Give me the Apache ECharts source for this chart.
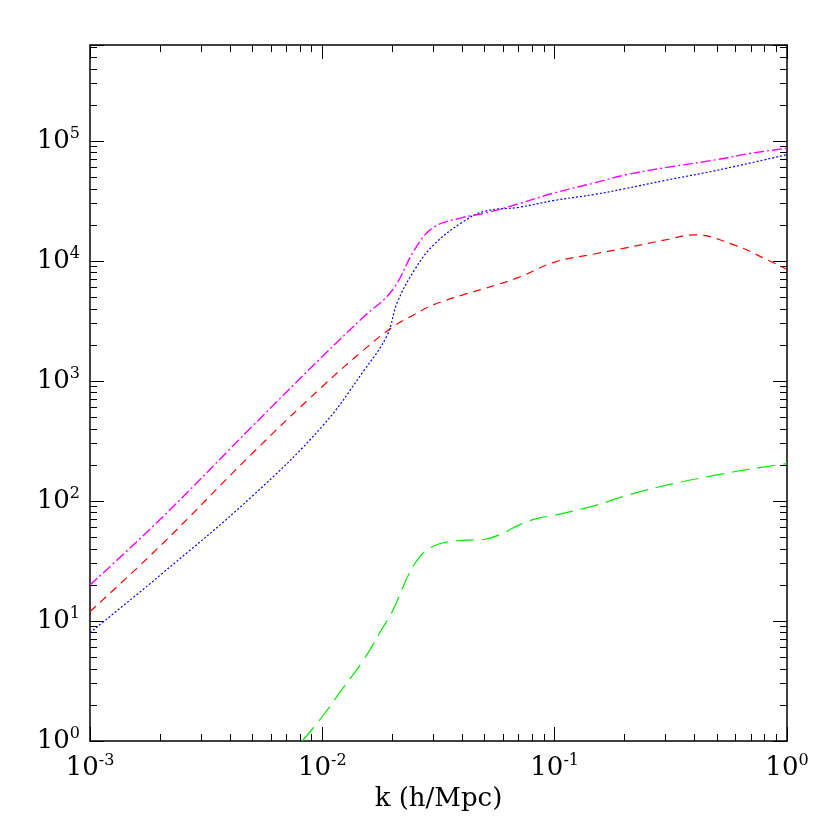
<!DOCTYPE html><html><head><meta charset="utf-8">
<script src="https://cdn.jsdelivr.net/npm/echarts@6/dist/echarts.min.js"></script>
<style>html,body{margin:0;background:#fff}#c{width:830px;height:830px}</style></head><body><div id="c"></div>
<script>
const standK=[0.001,0.002,0.005,0.01,0.015,0.02,0.025,0.03,0.04,0.05,0.07,0.1,0.15,0.2,0.3,0.4,0.6,0.8,1];
const standV=[12,42,250,900,1800,2800,3600,4300,5200,5900,7300,9800,11500,12800,15000,16500,13500,10500,8500];
const alphaK=[0.0082,0.01,0.012,0.015,0.018,0.02,0.025,0.03,0.04,0.05,0.06,0.07,0.085,0.1,0.15,0.2,0.3,0.5,0.7,1];
const alphaV=[1,1.6,2.6,4.7,8.5,12,30,42,47,48,54,63,72,76,92,110,135,165,185,205];
const eK=[0.001,0.002,0.005,0.01,0.015,0.019,0.021,0.025,0.03,0.04,0.05,0.07,0.1,0.15,0.2,0.3,0.5,1];
const eV=[8,24,110,420,1200,2400,4500,8500,13500,21000,26000,28000,32000,36000,40000,47000,57000,77000];
const allK=[0.001,0.002,0.005,0.01,0.015,0.02,0.025,0.03,0.04,0.05,0.07,0.1,0.15,0.2,0.3,0.5,0.7,1];
const allV=[20,70,420,1600,3400,5700,12500,19000,23000,25000,30000,37000,45000,52000,60000,70000,79000,87000];
const names=['stand. contrib.','\u03b1 contrib.','E contrib.','all terms'];
function fmt(v){const e=Math.round(Math.log10(v));if(Math.abs(Math.log10(v)-e)>1e-6)return '';return '{b|10}{s|'+e+'}';}
const rich={b:{fontSize:26,fontFamily:'DejaVu Serif',color:'#000'},s:{fontSize:16,fontFamily:'DejaVu Serif',color:'#000',verticalAlign:'top',padding:[0,0,14,0]}};
const ax=(extra)=>Object.assign({type:'log',logBase:10,axisLine:{show:true,onZero:false,lineStyle:{color:'#000',width:1.5}},
 axisTick:{show:true,inside:true,length:14,lineStyle:{color:'#000'}},minorTick:{show:true,splitNumber:9,length:7,lineStyle:{color:'#000'}},
 splitLine:{show:false}},extra);
const z=(k,v)=>k.map((x,i)=>[x,v[i]]);
const chart=echarts.init(document.getElementById('c'));
const mk=(i,k,v,c,t,w)=>({name:names[i],type:'line',symbol:'none',smooth:0.4,data:z(k,v),lineStyle:{color:c,width:w,type:t},itemStyle:{color:c}});
chart.setOption({animation:false,
grid:{left:90,right:43,top:45,bottom:89},
xAxis:[ax({min:0.001,max:1,name:'k (h/Mpc)',nameLocation:'middle',nameGap:42,nameTextStyle:{fontSize:26,fontFamily:'DejaVu Serif',color:'#000'},
 axisLabel:{formatter:fmt,rich:rich,margin:12}}),
 ax({min:0.001,max:1,position:'top',axisLabel:{show:false}})],
yAxis:[ax({min:1,max:631000,axisLabel:{formatter:fmt,rich:rich,margin:10}}),
 ax({min:1,max:631000,position:'right',axisLabel:{show:false}})],
legend:{left:480,top:618,orient:'vertical',itemWidth:45,itemHeight:10,itemGap:6,icon:'path://M0,0L1,0',
 textStyle:{fontSize:13,fontFamily:'DejaVu Sans',color:'#000',rich:{e:{fontSize:13,fontFamily:'DejaVu Serif',fontWeight:'bold'}}},
 formatter:n=>n==='E contrib.'?'{e|'+n+'}':n,data:names},
series:[
 mk(0,standK,standV,'#ff0000',[8,6],1.2),
 mk(1,alphaK,alphaV,'#00ee00',[18,8],1.2),
 mk(2,eK,eV,'#0000ff',[2,2],1.2),
 mk(3,allK,allV,'#ff00ff',[10,3,2,3],1.4)
]});
</script></body></html>
